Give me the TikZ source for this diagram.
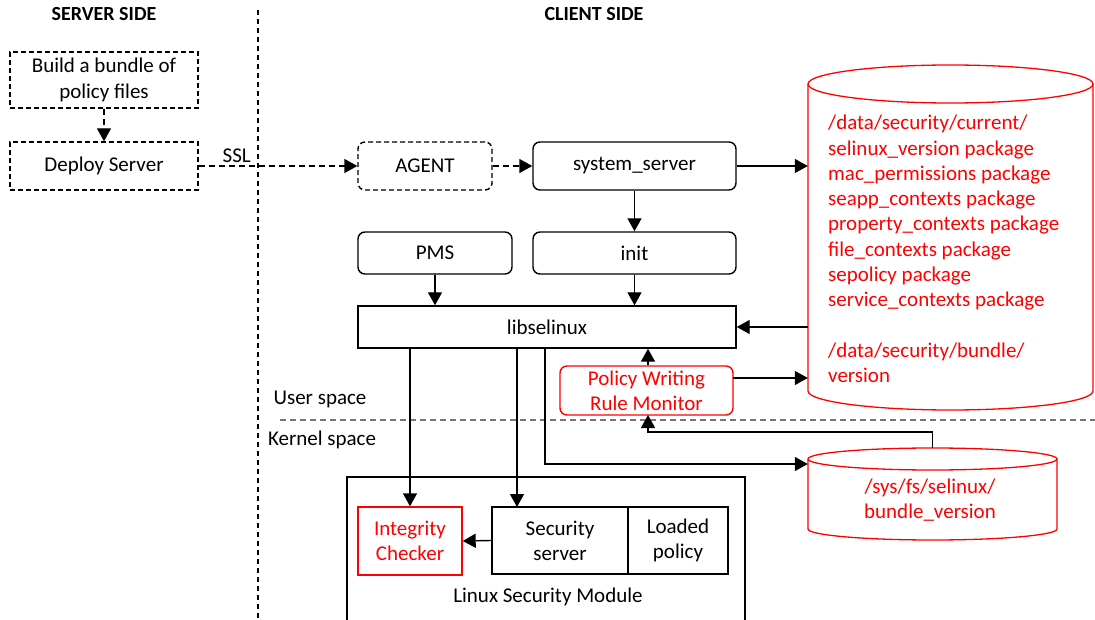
\documentclass[tikz,border=0pt]{standalone}
\usepackage{fontspec}
\setmainfont{Carlito}
\usetikzlibrary{arrows.meta}
\definecolor{cred}{RGB}{255,0,0}
\definecolor{sepgray}{RGB}{120,120,120}
\begin{document}
\begin{tikzpicture}[x=1pt,y=-1pt,
  every node/.style={font=\fontsize{21}{25.3}\selectfont, inner sep=0pt},
  box/.style={draw, line width=1.4pt, align=center},
  dbox/.style={box, dash pattern=on 5pt off 3pt},
  rbox/.style={box, rounded corners=7pt},
  conn/.style={line width=1.4pt, -{Triangle[length=13pt,width=14pt]}},
  dconn/.style={conn, dash pattern=on 6pt off 4pt},
  cyl/.style={draw=cred, line width=1.3pt},
  lbl/.style={font=\fontsize{21}{25.3}\selectfont},
  head/.style={font=\bfseries\fontsize{20}{24}\selectfont}
]
\useasboundingbox (0,0) rectangle (1095,620);

% headings
\node[head] (hs) at (104,14) {SERVER SIDE};
\node[head] (hc) at (594,14) {CLIENT SIDE};

% separators
\draw[line width=1.2pt, dash pattern=on 5pt off 4pt] (258,10) -- (258,622);
\draw[sepgray, line width=1.8pt, dash pattern=on 6pt off 4pt] (280,420) -- (1095,420);
\node[lbl] (us) at (320,399) {User space};
\node[lbl] (ks) at (322,440) {Kernel space};

% server side
\node[dbox, minimum width=188pt, minimum height=56pt] (build) at (104,80) {Build a bundle of\\policy files};
\node[dbox, minimum width=188pt, minimum height=48pt] (deploy) at (104,166) {Deploy Server};

% client side
\node[dbox, rounded corners=7pt, minimum width=134pt, minimum height=48pt] (agent) at (425,166) {AGENT};
\node[rbox, minimum width=203pt, minimum height=48pt] (sys) at (634.5,166) {system\_server};
\node[rbox, minimum width=203pt, minimum height=42pt] (init) at (634.5,253) {init};
\node[rbox, minimum width=154pt, minimum height=42pt] (pms) at (435,253) {PMS};
\node[box, minimum width=378pt, minimum height=42pt] (lib) at (547,327) {libselinux};
\node[rbox, draw=cred, text=cred, minimum width=173pt, minimum height=49pt] (mon) at (646.5,390.5) {Policy Writing\\Rule Monitor};

% LSM
\node[box, minimum width=398pt, minimum height=150pt] (lsm) at (546,552) {};
\node[lbl] (lsml) at (548,597) {Linux Security Module};
\node[box, draw=cred, text=cred, minimum width=104pt, minimum height=68pt] (integ) at (410,541) {Integrity\\Checker};
\node[box, minimum width=136pt, minimum height=67pt] (sec) at (560,540.5) {Security\\server};
\node[box, minimum width=100pt, minimum height=67pt] (loaded) at (678,540.5) {Loaded\\policy};

% big cylinder
\node[minimum width=285pt, minimum height=345pt] (dbig) at (950.5,237.5) {};
\draw[cyl] (950.5,84) ellipse [x radius=142.5, y radius=19];
\draw[cyl] (808,84) -- (808,391) arc[start angle=180, end angle=0, x radius=142.5, y radius=19] -- (1093,84);
\node[text=cred, align=left, anchor=north west] (dbigt) at (828,115)
 {/data/security/current/\\selinux\_version package\\mac\_permissions package\\seapp\_contexts package\\property\_contexts package\\file\_contexts package\\sepolicy package\\service\_contexts package\\[25.3pt]/data/security/bundle/\\version};

% small cylinder
\node[minimum width=249pt, minimum height=92pt] (dsmall) at (932.5,494) {};
\draw[cyl] (932.5,459) ellipse [x radius=124.5, y radius=11];
\draw[cyl] (808,459) -- (808,529) arc[start angle=180, end angle=0, x radius=124.5, y radius=11] -- (1057,459);
\node[text=cred, align=center] (dsmallt) at (930,500) {/sys/fs/selinux/\\bundle\_version};

% connectors
\draw[dconn] (build.south) -- (deploy.north);
\draw[dconn] (deploy.east) -- node[pos=0.24, above=3pt, lbl] (ssl) {SSL} (agent.west);
\draw[dconn] (agent.east) -- (sys.west);
\draw[conn] (sys.east) -- (sys.east -| dbig.west);
\draw[conn] (sys.south) -- (init.north);
\draw[conn] (pms.south) -- (pms.south |- lib.north);
\draw[conn] (init.south) -- (init.south |- lib.north);
\draw[conn] (lib.east -| dbig.west) -- (lib.east);
\draw[conn] (mon.north -| 648,0) -- (lib.south -| 648,0);
\coordinate (mo) at (733,378);
\draw[conn] (mo) -- (mo -| dbig.west);
\draw[conn] (dsmall.north) -- ++(0,-16) -| (648,415);
\draw[conn] (lib.south -| integ.north) -- (integ.north);
\coordinate (s1) at (517,507);
\draw[conn] (lib.south -| s1) -- (s1);
\coordinate (k) at (545,464);
\draw[conn] (lib.south -| k) -- (k) -- (k -| dsmall.west);
\draw[conn] (sec.west) -- (integ.east);
\end{tikzpicture}
\end{document}
